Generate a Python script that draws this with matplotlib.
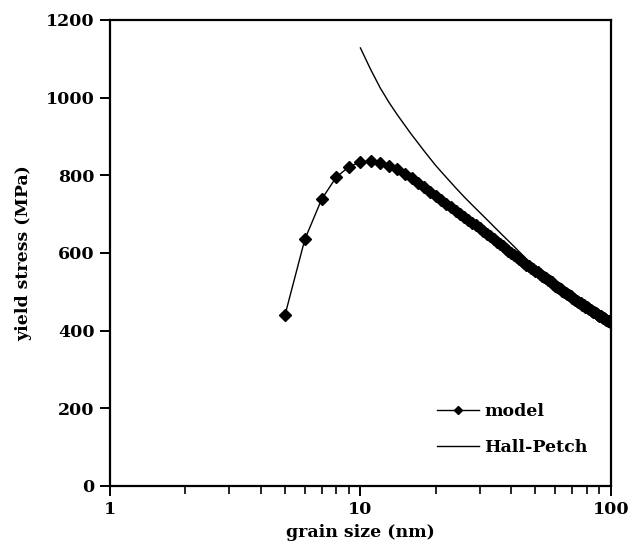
import matplotlib.pyplot as plt

# grain size (nm) and yield stress (MPa)
model_d = list(range(5, 101))
model_sigma = [
    440, 635, 738, 795, 822, 834, 836, 832, 825, 815,   # 5-14
    804, 793, 781, 769, 757, 746, 736, 727, 718, 709,   # 15-24
    701, 693, 685, 678, 671, 664, 657, 650, 643, 636,   # 25-34
    629, 623, 617, 611, 605, 599, 594, 589, 584, 579,   # 35-44
    575, 570, 566, 562, 558, 554, 550, 546, 542, 538,   # 45-54
    535, 531, 527, 524, 520, 516, 513, 510, 506, 503,   # 55-64
    500, 497, 494, 491, 488, 485, 482, 480, 477, 475,   # 65-74
    472, 470, 467, 465, 462, 460, 458, 456, 453, 451,   # 75-84
    449, 447, 445, 443, 441, 439, 437, 435, 433, 432,   # 85-94
    430, 428, 426, 425, 423, 422,                       # 95-100
]

hp_d = [10, 11, 12, 13, 14, 15, 16, 17, 18, 19, 20, 22, 24, 26, 28, 30, 32,
        34, 36, 38, 40, 45, 50, 55, 60, 70, 80, 90, 100]
hp_sigma = [1128, 1072, 1025, 988, 957, 930, 905, 883, 862, 843, 825, 795,
            768, 744, 723, 704, 686, 669, 653, 638, 624, 591, 562, 537, 516,
            485, 460, 440, 422]

plt.rcParams['font.family'] = ['DejaVu Serif']
plt.rcParams['font.weight'] = 'bold'

fig = plt.figure(figsize=(6.39, 5.52), dpi=100)
ax = fig.add_axes([0.172, 0.1196, 0.784, 0.8442])

ax.plot(model_d, model_sigma, color='black', lw=1.0, marker='D',
        markersize=6.5, label='model')
ax.plot(hp_d, hp_sigma, color='black', lw=1.0, label='Hall-Petch')

ax.set_xscale('log')
ax.set_xlim(1, 100)
ax.set_ylim(0, 1200)
ax.set_yticks(range(0, 1201, 200))
ax.set_xticks([1, 10, 100])
ax.set_xticklabels(['1', '10', '100'])

for s in ax.spines.values():
    s.set_linewidth(1.6)
ax.tick_params(axis='both', which='major', direction='out', length=7,
               width=1.4, labelsize=12.5, pad=4)
ax.tick_params(axis='x', which='minor', direction='out', length=6, width=1.2)
for lab in ax.get_xticklabels() + ax.get_yticklabels():
    lab.set_fontweight('bold')

ax.set_xlabel('grain size (nm)', fontsize=12.5, fontweight='bold', labelpad=4)
ax.set_ylabel('yield stress (MPa)', fontsize=12.5, fontweight='bold', labelpad=10)

ax.legend(loc='lower right', bbox_to_anchor=(0.985, 0.03), frameon=False,
          markerscale=0.6, handlelength=2.4, handletextpad=0.3,
          labelspacing=1.1, prop={'weight': 'bold', 'size': 12.5})

fig.savefig('out.png', dpi=100)
